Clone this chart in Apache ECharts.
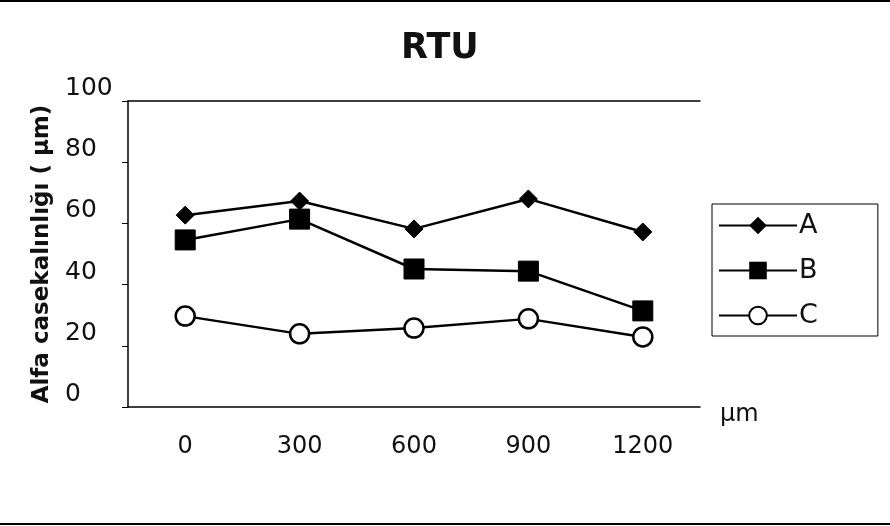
<!DOCTYPE html>
<html>
<head>
<meta charset="utf-8">
<script src="https://cdn.jsdelivr.net/npm/echarts@6/dist/echarts.min.js"></script>
<style>
html,body{margin:0;padding:0;background:#fff;}
#c{width:890px;height:526px;}
</style>
</head>
<body>
<div id="c"></div>
<script>
var categories = ['0', '300', '600', '900', '1200'];
var seriesA = [62.7, 67.3, 58.2, 68.0, 57.2];
var seriesB = [54.6, 61.4, 45.1, 44.4, 31.4];
var seriesC = [29.7, 23.9, 25.8, 28.8, 22.9];
var seriesNames = ['A', 'B', 'C'];

var FONT = 'DejaVu Sans, Liberation Sans, sans-serif';
var chart = echarts.init(document.getElementById('c'));
chart.setOption({
  backgroundColor: '#fff',
  animation: false,
  textStyle: { fontFamily: FONT, color: '#000' },
  title: {
    text: 'RTU',
    left: 396, top: 26,
    textStyle: { fontFamily: FONT, fontSize: 35, fontWeight: 'bold', color: '#111' }
  },
  grid: { left: 128, top: 101, width: 572, height: 306 },
  legend: {
    orient: 'vertical',
    left: 712, top: 204,
    padding: [8, 60, 7, 6],
    itemGap: 18,
    itemWidth: 78,
    itemHeight: 22,
    borderColor: '#000',
    borderWidth: 1,
    data: seriesNames,
    textStyle: { fontFamily: FONT, fontSize: 27, color: '#111', padding: [0, 0, 0, -3] }
  },
  xAxis: [{
    type: 'category',
    data: categories,
    boundaryGap: true,
    name: 'µm',
    nameLocation: 'end',
    nameGap: 20,
    nameTextStyle: { fontFamily: FONT, fontSize: 24, color: '#111', verticalAlign: 'top', padding: [-4, 0, 0, 0] },
    axisLine: { lineStyle: { color: '#000', width: 1.5 } },
    axisTick: { show: false },
    axisLabel: { fontFamily: FONT, fontSize: 24, color: '#111', margin: 28 }
  }, {
    type: 'category',
    data: categories,
    position: 'top',
    axisLine: { lineStyle: { color: '#000', width: 1.5 } },
    axisTick: { show: false },
    axisLabel: { show: false }
  }],
  yAxis: {
    type: 'value',
    min: 0, max: 100, interval: 20,
    name: 'Alfa casekalınlığı ( µm)',
    nameLocation: 'middle',
    nameGap: 62,
    nameRotate: 90,
    nameTextStyle: { fontFamily: FONT, fontSize: 23, fontWeight: 'bold', color: '#111', padding: [0, 0, 12, 0] },
    axisLine: { show: true, lineStyle: { color: '#000', width: 1.5 } },
    axisTick: { show: true, length: 6, lineStyle: { color: '#000' } },
    splitLine: { show: false },
    axisLabel: { fontFamily: FONT, fontSize: 25, color: '#111', align: 'left', margin: 63, verticalAlign: 'bottom' }
  },
  series: [{
    name: seriesNames[0], type: 'line', data: seriesA,
    symbol: 'diamond', symbolSize: 18,
    lineStyle: { color: '#000', width: 2.5 },
    itemStyle: { color: '#000', borderColor: '#000' }
  }, {
    name: seriesNames[1], type: 'line', data: seriesB,
    symbol: 'rect', symbolSize: 20,
    lineStyle: { color: '#000', width: 2.5 },
    itemStyle: { color: '#000', borderColor: '#000' }
  }, {
    name: seriesNames[2], type: 'line', data: seriesC,
    symbol: 'circle', symbolSize: 19,
    lineStyle: { color: '#000', width: 2.5 },
    itemStyle: { color: '#fff', borderColor: '#000', borderWidth: 2.5 }
  }],
  graphic: [
    { type: 'line', shape: { x1: 0, y1: 1, x2: 890, y2: 1 }, style: { stroke: '#000', lineWidth: 2 } },
    { type: 'line', shape: { x1: 0, y1: 524, x2: 890, y2: 524 }, style: { stroke: '#000', lineWidth: 2 } }
  ]
});
</script>
</body>
</html>
